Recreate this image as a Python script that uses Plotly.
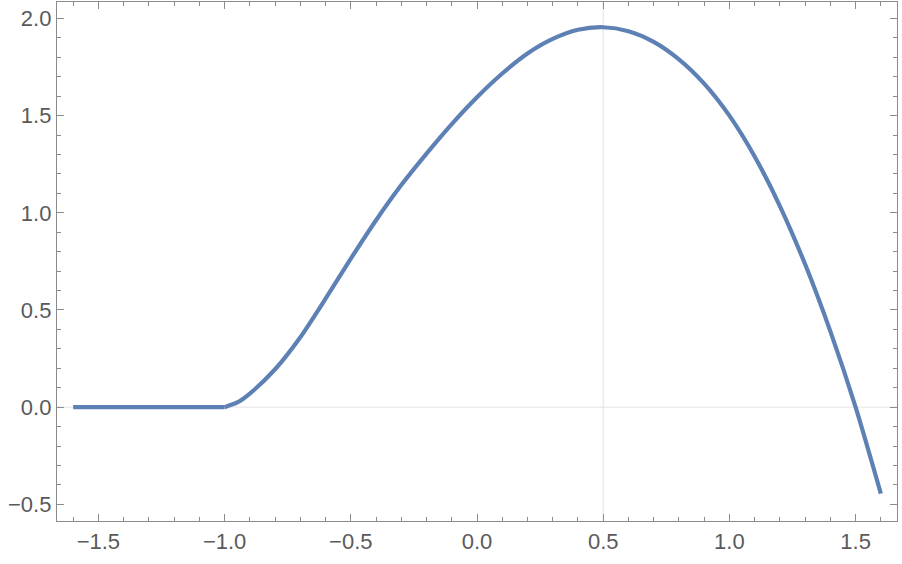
import plotly.graph_objects as go

# Values
flat_x = [-1.6, -1.3, -1.0]
flat_y = [0.0, 0.0, 0.0]

x_vals = [-1.0, -0.95, -0.9, -0.8, -0.7, -0.6, -0.5, -0.4, -0.3, -0.2, -0.1,
          0.0, 0.1, 0.2, 0.3, 0.4, 0.5, 0.6, 0.7, 0.8, 0.9, 1.0, 1.1, 1.2, 1.3,
          1.4, 1.5, 1.6]
y_vals = [0.0, 0.024, 0.07, 0.195, 0.36, 0.558, 0.764, 0.962, 1.143, 1.305, 1.457,
          1.595, 1.717, 1.82, 1.895, 1.942, 1.955, 1.935, 1.88, 1.79, 1.665, 1.50, 1.29, 1.035, 0.735,
          0.39, 0.0, -0.445]

x_ticks = [-1.5, -1.0, -0.5, 0.0, 0.5, 1.0, 1.5]
x_tick_labels = ["−1.5", "−1.0", "−0.5", "0.0", "0.5", "1.0", "1.5"]
y_ticks = [-0.5, 0.0, 0.5, 1.0, 1.5, 2.0]
y_tick_labels = ["−0.5", "0.0", "0.5", "1.0", "1.5", "2.0"]
grid_x = [0.5]
grid_y = [0.0]

x_range = [-1.664, 1.664]
y_range = [-0.586, 2.085]

LINE = dict(color="#5E81B5", width=4.2)

fig = go.Figure()
fig.add_trace(go.Scatter(x=flat_x, y=flat_y, mode="lines", line=LINE,
                         hoverinfo="skip", showlegend=False))
fig.add_trace(go.Scatter(x=x_vals, y=y_vals, mode="lines",
                         line=dict(**LINE, shape="spline", smoothing=0.7),
                         hoverinfo="skip", showlegend=False))

shapes = []
for gx in grid_x:
    shapes.append(dict(type="line", xref="x", yref="paper", x0=gx, x1=gx, y0=0, y1=1,
                       line=dict(color="#E3E3E3", width=1), layer="below"))
for gy in grid_y:
    shapes.append(dict(type="line", xref="paper", yref="y", x0=0, x1=1, y0=gy, y1=gy,
                       line=dict(color="#E3E3E3", width=1), layer="below"))

axis_common = dict(
    showgrid=False, zeroline=False, showline=True, linecolor="#8C8C8C", linewidth=1.2,
    mirror="allticks", ticks="inside", ticklen=7, tickwidth=1, tickcolor="#8C8C8C",
    tickfont=dict(family="Liberation Sans, Arial, sans-serif", size=22, color="#5A5A5A"),
    minor=dict(ticks="inside", ticklen=4, tickwidth=1, tickcolor="#8C8C8C", dtick=0.1, showgrid=False),
    automargin=False,
)

fig.update_layout(
    width=902, height=564,
    margin=dict(l=57, r=5, t=2, b=43),
    paper_bgcolor="white", plot_bgcolor="white",
    shapes=shapes,
    xaxis=dict(range=x_range, tickvals=x_ticks, ticktext=x_tick_labels, **axis_common),
    yaxis=dict(range=y_range, tickvals=y_ticks, ticktext=y_tick_labels, **axis_common),
)

fig.write_html("out.html", config={"displayModeBar": False, "staticPlot": True},
               post_script="document.body.style.margin='0';document.body.style.overflow='hidden';")
